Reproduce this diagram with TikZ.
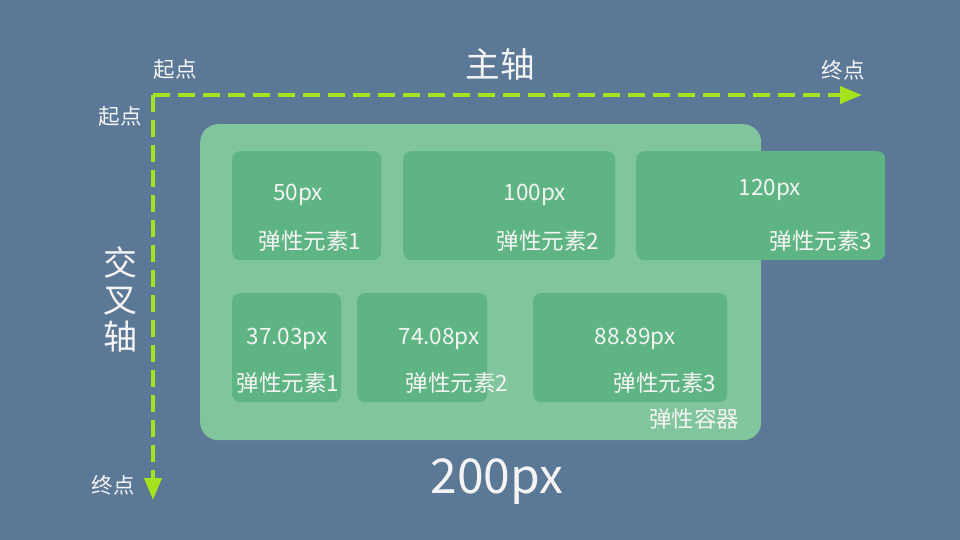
\documentclass[tikz,border=0pt]{standalone}
\usepackage{fontspec}
\setmainfont{Noto Sans CJK SC}
\usetikzlibrary{arrows.meta}
\definecolor{bgc}{HTML}{5B7896}
\definecolor{contc}{HTML}{80C59C}
\definecolor{itemc}{HTML}{5EB583}
\definecolor{axisc}{HTML}{A6E21E}
\definecolor{txtc}{HTML}{F4F4F4}
\tikzset{
  axisline/.style={draw=axisc, line width=4pt, dash pattern=on 17pt off 8pt,
    -{Triangle[length=22pt,width=17pt,fill=axisc]}},
  itembox/.style={fill=itemc, rounded corners=8pt, anchor=north west, inner sep=0pt},
  contbox/.style={fill=contc, rounded corners=18pt, anchor=north west, inner sep=0pt},
  lbl/.style={text=txtc, inner sep=0pt, font=\fontsize{22.5}{24}\selectfont},
  small/.style={text=txtc, inner sep=0pt, font=\fontsize{21.5}{23}\selectfont},
}
\begin{document}
\begin{tikzpicture}[x=1pt,y=-1pt]
\useasboundingbox[fill=bgc] (0,0) rectangle (960,540);
% container
\node[contbox, minimum width=561pt, minimum height=316pt] (cont) at (200,124) {};
% row 1
\node[itembox, minimum width=149pt, minimum height=109pt] (a1) at (232,151) {};
\node[itembox, minimum width=212pt, minimum height=109pt] (a2) at (403,151) {};
\node[itembox, minimum width=249pt, minimum height=109pt] (a3) at (636,151) {};
% row 2
\node[itembox, minimum width=109pt, minimum height=109pt] (b1) at (232,293) {};
\node[itembox, minimum width=130pt, minimum height=109pt] (b2) at (357,293) {};
\node[itembox, minimum width=194pt, minimum height=109pt] (b3) at (533,293) {};
% texts row 1
\node[lbl] (a1w) at (298,195) {50px};
\node[lbl] (a1n) at (310,241) {弹性元素1};
\node[lbl] (a2w) at (535,195) {100px};
\node[lbl] (a2n) at (548,241) {弹性元素2};
\node[lbl] (a3w) at (770,190) {120px};
\node[lbl] (a3n) at (821,241) {弹性元素3};
% texts row 2
\node[lbl] (b1w) at (287,339) {37.03px};
\node[lbl] (b1n) at (288,383) {弹性元素1};
\node[lbl] (b2w) at (439,339) {74.08px};
\node[lbl] (b2n) at (457,383) {弹性元素2};
\node[lbl] (b3w) at (635,339) {88.89px};
\node[lbl] (b3n) at (665,383) {弹性元素3};
\node[lbl] (contn) at (694,419) {弹性容器};
\node[text=txtc, inner sep=0pt, font=\fontsize{48}{50}\selectfont] (total) at (497,482) {200px};
% axes
\coordinate (o) at (153,95);
\coordinate (hx) at (862,95);
\coordinate (vy) at (153,500);
\draw[axisline] (o) -- (hx);
\draw[axisline] (o) -- (vy);
\node[small] (s1) at (175,69) {起点};
\node[small] (s2) at (120,116) {起点};
\node[small] (e1) at (843,70) {终点};
\node[small] (e2) at (113,485) {终点};
\node[text=txtc, inner sep=0pt, font=\fontsize{34.5}{36}\selectfont] (main) at (500,64) {主轴};
\node[text=txtc, inner sep=0pt, align=center, font=\fontsize{34}{37}\selectfont] (cross) at (120,299) {交\\叉\\轴};
\end{tikzpicture}
\end{document}
